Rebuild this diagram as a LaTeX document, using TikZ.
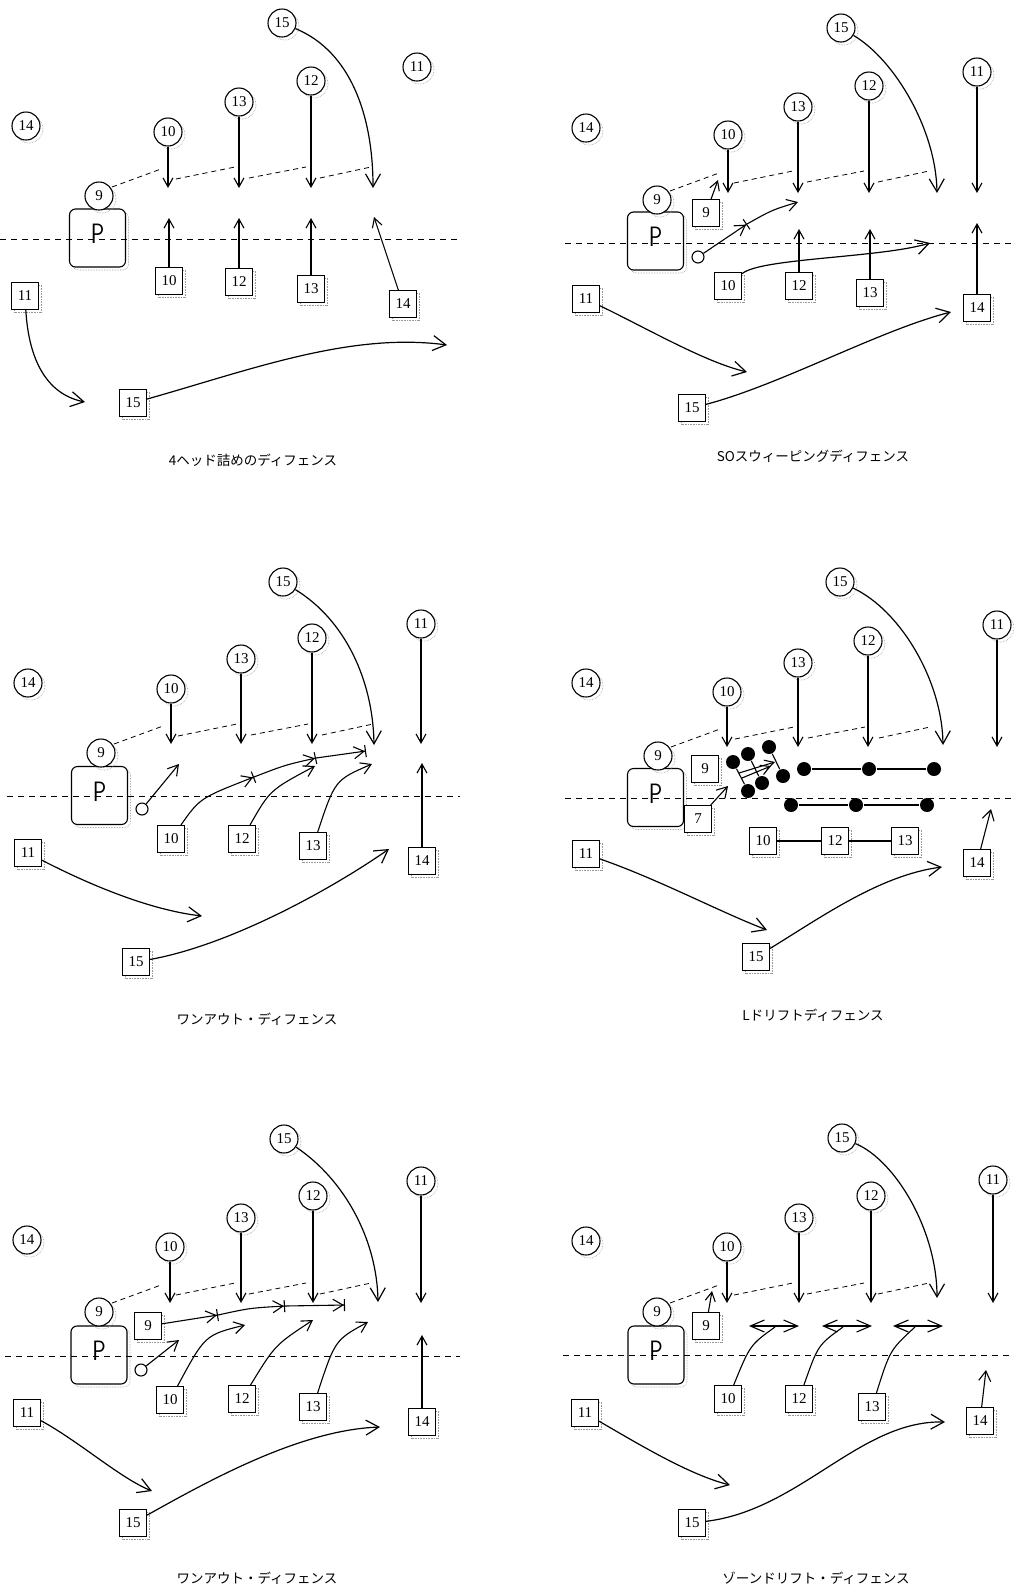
\documentclass[tikz,border=0pt]{standalone}
\usepackage{fontspec}
\setmainfont{Liberation Serif}
\newfontfamily\jpfont{Noto Sans CJK JP}
\usetikzlibrary{arrows.meta,shadows}
\newcommand\packP{\scalebox{0.8}[1]{P}}
\tikzset{gapline/.pic={% sawtooth gain line, drawn from the 9 circle
  \draw[gapdash] (13,-9) -- (62,-27) (77,-17) -- (136,-29)
                 (150,-18) -- (207,-29) (221,-18) -- (272,-29);}}

\begin{document}
\begin{tikzpicture}[x=1pt, y=-1pt, line width=1.1pt, >={Straight Barb[length=9pt,width=10pt]},
    ghost/.style={drop shadow={shadow xshift=3pt, shadow yshift=-3pt, opacity=1,
      fill=none, draw=black!40, densely dotted, line width=0.6pt}},
    att/.style={circle, draw, fill=white, minimum size=28pt, inner sep=0pt,
      font=\fontsize{15}{15}\selectfont, ghost},
    dfn/.style={rectangle, draw, fill=white, minimum size=27pt, inner sep=0pt,
      font=\fontsize{15}{15}\selectfont, ghost},
    pack/.style={rectangle, rounded corners=6pt, draw, fill=white, minimum width=56pt,
      minimum height=58pt, inner sep=0pt, text height=19pt, text depth=8pt,
      font=\sffamily\fontsize{28}{28}\selectfont, ghost},
    ballc/.style={circle, draw, fill=white, minimum size=12pt, inner sep=0pt},
    dot/.style={circle, fill, minimum size=14pt, inner sep=0pt},
    los/.style={line width=0.9pt, dash pattern=on 6pt off 5pt},
    gapdash/.style={line width=0.8pt, dash pattern=on 5pt off 4pt},
    run/.style={->},
    hop/.style={-{Straight Barb[length=10pt,width=12pt]}},
    far/.style={-{Straight Barb[length=13pt,width=15pt]}, line width=1.2pt},
    pass/.style={-{Straight Barb[length=10pt,width=12pt] Bar[width=12pt]}},
    sway/.style={<->, >={Straight Barb[length=14pt,width=12pt]}},
    caption/.style={font=\jpfont\fontsize{13.5}{14}\selectfont}]
  \useasboundingbox (0,0) rectangle (1013,1591);

  % ================= A: top left
  \node[pack] (a-p) at (97.5,238) {\packP};
  \foreach \n/\x/\y in {15/282/23, 11/417/67, 12/311/81, 13/239/102, 10/168/132, 14/26/126, 9/99/196}
    \node[att] (a-c\n) at (\x,\y) {\n};
  \foreach \n/\x/\y in {10/169/281, 12/239/282, 13/311/289, 14/403/304, 11/25/296, 15/133/403}
    \node[dfn] (a-s\n) at (\x,\y) {\n};
  \coordinate (a-l0) at (0,239);
  \coordinate (a-l1) at (457,239);
  \draw[los] (a-l0) -- (a-l1);
  \pic at (a-c9) {gapline};
  \coordinate (a-gl) at (0,188);
  \coordinate (a-up) at (0,218);
  \foreach \n in {10,13,12} \draw[run] (a-c\n) -- (a-c\n |- a-gl);
  \foreach \n in {10,12,13} \draw[run] (a-s\n) -- (a-s\n |- a-up);
  \coordinate (a-e15) at (373,188);
  \coordinate (a-e14) at (374,217);
  \coordinate (a-e11) at (85,402);
  \coordinate (a-f15) at (447,345);
  \draw[far] (a-c15) .. controls (352,52) and (373,118) .. (a-e15);
  \draw[run] (a-s14) -- (a-e14);
  \draw[far] (a-s11) .. controls (29,365) and (50,395) .. (a-e11);
  \draw[far] (a-s15) .. controls (250,370) and (350,332) .. (a-f15);
  \node[caption] (a-cap) at (253,460) {4ヘッド詰めのディフェンス};

  % ================= B: top right
  \node[pack] (b-p) at (655.5,241) {\packP};
  \foreach \n/\x/\y in {15/841/28, 12/869/86, 11/977/72, 13/798/107, 10/728/135, 14/586/128, 9/657/200}
    \node[att] (b-c\n) at (\x,\y) {\n};
  \foreach \n/\x/\y in {9/706/213, 10/728/286, 12/799/286, 13/870/293, 14/977/308, 11/586/299, 15/692/408}
    \node[dfn] (b-s\n) at (\x,\y) {\n};
  \node[ballc] (b-b) at (698,257) {};
  \coordinate (b-l0) at (565,243);
  \coordinate (b-l1) at (1013,243);
  \draw[los] (b-l0) -- (b-l1);
  \pic at (b-c9) {gapline};
  \coordinate (b-gl) at (0,193);
  \coordinate (b-up) at (0,229);
  \foreach \n in {10,13,12,11} \draw[run] (b-c\n) -- (b-c\n |- b-gl);
  \foreach \n in {12,13} \draw[run] (b-s\n) -- (b-s\n |- b-up);
  \coordinate (b-e15) at (937,193);
  \coordinate (b-e9) at (718,180);
  \coordinate (b-m1) at (747,224);
  \coordinate (b-m2) at (798,202);
  \coordinate (b-e10) at (930,243);
  \coordinate (b-e14) at (977,223);
  \coordinate (b-e11) at (747,372);
  \coordinate (b-f15) at (951,312);
  \draw[far] (b-c15) .. controls (895,60) and (936,130) .. (b-e15);
  \draw[run] (b-s9) -- (b-e9);
  \draw[pass] (b-b) -- (b-m1);
  \draw[hop] (b-m1) .. controls (772,210) .. (b-m2);
  \draw[far] (b-s10) .. controls (760,258) and (880,258) .. (b-e10);
  \draw[run] (b-s14) -- (b-e14);
  \draw[far] (b-s11) .. controls (650,330) and (705,362) .. (b-e11);
  \draw[far] (b-s15) .. controls (780,385) and (880,330) .. (b-f15);
  \node[caption] (b-cap) at (813,456) {SOスウィーピングディフェンス};

  % ================= C: middle left
  \node[pack] (c-p) at (99.5,795.5) {\packP};
  \foreach \n/\x/\y in {15/283/582, 11/421/624, 12/312/638, 13/241/659, 10/171/689, 14/28/683, 9/101/753}
    \node[att] (c-c\n) at (\x,\y) {\n};
  \foreach \n/\x/\y in {10/171/839, 12/242/839, 13/313/846, 14/422/861, 11/28/853, 15/136/962}
    \node[dfn] (c-s\n) at (\x,\y) {\n};
  \node[ballc] (c-b) at (142,809) {};
  \coordinate (c-l0) at (7,796);
  \coordinate (c-l1) at (460,796);
  \draw[los] (c-l0) -- (c-l1);
  \pic at (c-c9) {gapline};
  \coordinate (c-gl) at (0,744);
  \foreach \n in {10,13,12,11} \draw[run] (c-c\n) -- (c-c\n |- c-gl);
  \coordinate (c-e15) at (374,745);
  \coordinate (c-e0) at (179,764);
  \coordinate (c-m1) at (254,777);
  \coordinate (c-m2) at (316,758);
  \coordinate (c-m3) at (366,751);
  \coordinate (c-e12) at (315,766);
  \coordinate (c-e13) at (372,764);
  \coordinate (c-e14) at (422,763);
  \coordinate (c-e11) at (202,916);
  \coordinate (c-f15) at (389,849);
  \draw[far] (c-c15) .. controls (345,620) and (373,680) .. (c-e15);
  \draw[hop] (c-b) -- (c-e0);
  \draw[pass] (c-s10) .. controls (200,798) .. (c-m1);
  \draw[pass] (c-m1) .. controls (285,765) .. (c-m2);
  \draw[pass] (c-m2) -- (c-m3);
  \draw[hop] (c-s12) .. controls (270,790) .. (c-e12);
  \draw[hop] (c-s13) .. controls (335,780) .. (c-e13);
  \draw[run] (c-s14) -- (c-e14);
  \draw[far] (c-s11) .. controls (90,885) and (150,910) .. (c-e11);
  \draw[far] (c-s15) .. controls (230,945) and (330,890) .. (c-f15);
  \node[caption] (c-cap) at (257,1019) {ワンアウト・ディフェンス};

  % ================= D: middle right
  \node[pack] (d-p) at (655.5,797.5) {\packP};
  \foreach \n/\x/\y in {15/840/582, 11/997/625, 12/868/641, 13/798/663, 10/727/692, 14/586/683, 9/658/756}
    \node[att] (d-c\n) at (\x,\y) {\n};
  \foreach \n/\x/\y in {9/705/769, 7/698/819, 10/763/841, 12/835/841, 13/905/841, 14/977/863, 11/586/854, 15/756/957}
    \node[dfn] (d-s\n) at (\x,\y) {\n};
  \foreach \n/\x/\y in {1/733/762, 2/748/791, 3/748/754, 4/762/783, 5/769/747, 6/783/776}
    \node[dot] (d-k\n) at (\x,\y) {};
  \foreach \n/\x in {1/804, 2/869, 3/934}
    \node[dot] (d-u\n) at (\x,769) {};
  \foreach \n/\x in {1/791, 2/856, 3/927}
    \node[dot] (d-w\n) at (\x,805) {};
  \coordinate (d-l0) at (565,798);
  \coordinate (d-l1) at (1013,798);
  \draw[los] (d-l0) -- (d-l1);
  \pic at (d-c9) {gapline};
  \coordinate (d-gl) at (0,747);
  \foreach \n in {10,13,12,11} \draw[run] (d-c\n) -- (d-c\n |- d-gl);
  \coordinate (d-e15) at (943,745);
  \coordinate (d-q1) at (739,773);
  \coordinate (d-q2) at (775,762);
  \coordinate (d-q3) at (742,778);
  \coordinate (d-q4) at (771,766);
  \coordinate (d-e7) at (728,786);
  \coordinate (d-e14) at (991,809);
  \coordinate (d-e11) at (767,930);
  \coordinate (d-f15) at (942,867);
  \draw[far] (d-c15) .. controls (900,610) and (942,680) .. (d-e15);
  \draw (d-k1) -- (d-k2) (d-k3) -- (d-k4) (d-k5) -- (d-k6);
  \draw[run] (d-q1) -- (d-q2);
  \draw[run] (d-q3) -- (d-q4);
  \draw[line width=1.2pt] (d-u1) -- (d-u2) -- (d-u3);
  \draw[line width=1.2pt] (d-w1) -- (d-w2) -- (d-w3);
  \draw (d-s10) -- (d-s12) -- (d-s13);
  \draw[hop] (d-s7) -- (d-e7);
  \draw[hop] (d-s14) -- (d-e14);
  \draw[far] (d-s11) .. controls (660,880) and (720,912) .. (d-e11);
  \draw[far] (d-s15) .. controls (820,918) and (880,875) .. (d-f15);
  \node[caption] (d-cap) at (813,1015) {Lドリフトディフェンス};

  % ================= E: bottom left
  \node[pack] (e-p) at (99,1355) {\packP};
  \foreach \n/\x/\y in {15/284/1139, 11/421/1181, 12/313/1196, 13/241/1218, 10/170/1247, 14/27/1240, 9/99/1312}
    \node[att] (e-c\n) at (\x,\y) {\n};
  \foreach \n/\x/\y in {9/148/1326, 10/170/1400, 12/242/1399, 13/313/1407, 14/422/1422, 11/27/1413, 15/133/1523}
    \node[dfn] (e-s\n) at (\x,\y) {\n};
  \node[ballc] (e-b) at (141,1370) {};
  \coordinate (e-l0) at (5,1356);
  \coordinate (e-l1) at (460,1356);
  \draw[los] (e-l0) -- (e-l1);
  \pic at (e-c9) {gapline};
  \coordinate (e-gl) at (0,1303);
  \foreach \n in {10,13,12,11} \draw[run] (e-c\n) -- (e-c\n |- e-gl);
  \coordinate (e-e15) at (378,1302);
  \coordinate (e-m1) at (218,1315);
  \coordinate (e-m2) at (285,1306);
  \coordinate (e-m3) at (345,1305);
  \coordinate (e-e0) at (179,1340);
  \coordinate (e-e10) at (245,1325);
  \coordinate (e-e12) at (313,1320);
  \coordinate (e-e13) at (368,1322);
  \coordinate (e-e14) at (422,1335);
  \coordinate (e-e11) at (152,1491);
  \coordinate (e-f15) at (380,1427);
  \draw[far] (e-c15) .. controls (345,1180) and (377,1240) .. (e-e15);
  \draw[pass] (e-s9) -- (e-m1);
  \draw[pass] (e-m1) .. controls (250,1308) .. (e-m2);
  \draw[pass] (e-m2) -- (e-m3);
  \draw[hop] (e-b) -- (e-e0);
  \draw[hop] (e-s10) .. controls (205,1335) .. (e-e10);
  \draw[hop] (e-s12) .. controls (275,1345) .. (e-e12);
  \draw[hop] (e-s13) .. controls (335,1340) .. (e-e13);
  \draw[run] (e-s14) -- (e-e14);
  \draw[far] (e-s11) .. controls (80,1442) and (120,1478) .. (e-e11);
  \draw[far] (e-s15) .. controls (210,1480) and (300,1430) .. (e-f15);
  \node[caption] (e-cap) at (257,1578) {ワンアウト・ディフェンス};

  % ================= F: bottom right
  \node[pack] (f-p) at (656,1355) {\packP};
  \foreach \n/\x/\y in {15/842/1138, 11/993/1180, 12/871/1196, 13/799/1218, 10/727/1247, 14/586/1241, 9/657/1312}
    \node[att] (f-c\n) at (\x,\y) {\n};
  \foreach \n/\x/\y in {9/706/1326, 10/728/1399, 12/799/1399, 13/872/1407, 14/980/1421, 11/585/1413, 15/692/1523}
    \node[dfn] (f-s\n) at (\x,\y) {\n};
  \coordinate (f-l0) at (563,1355);
  \coordinate (f-l1) at (1013,1355);
  \draw[los] (f-l0) -- (f-l1);
  \pic at (f-c9) {gapline};
  \coordinate (f-gl) at (0,1303);
  \foreach \n in {10,13,12,11} \draw[run] (f-c\n) -- (f-c\n |- f-gl);
  \foreach \i/\a/\b/\j in {1/749/799/775, 2/822/872/843, 3/893/943/915} {
    \coordinate (f-za\i) at (\a,1326);
    \coordinate (f-zb\i) at (\b,1326);
    \coordinate (f-j\i) at (\j,1327);
    \draw[sway] (f-za\i) -- (f-zb\i);
  }
  \coordinate (f-e15) at (937,1298);
  \coordinate (f-e9) at (712,1291);
  \coordinate (f-e14) at (986,1370);
  \coordinate (f-e11) at (730,1485);
  \coordinate (f-f15) at (945,1422);
  \draw[far] (f-c15) .. controls (895,1160) and (937,1230) .. (f-e15);
  \draw[run] (f-s9) -- (f-e9);
  \draw (f-s10) .. controls (750,1345) .. (f-j1);
  \draw (f-s12) .. controls (818,1345) .. (f-j2);
  \draw (f-s13) .. controls (890,1350) .. (f-j3);
  \draw[hop] (f-s14) -- (f-e14);
  \draw[far] (f-s11) .. controls (640,1445) and (690,1475) .. (f-e11);
  \draw[far] (f-s15) .. controls (800,1510) and (860,1420) .. (f-f15);
  \node[caption] (f-cap) at (816,1578) {ゾーンドリフト・ディフェンス};
\end{tikzpicture}
\end{document}
